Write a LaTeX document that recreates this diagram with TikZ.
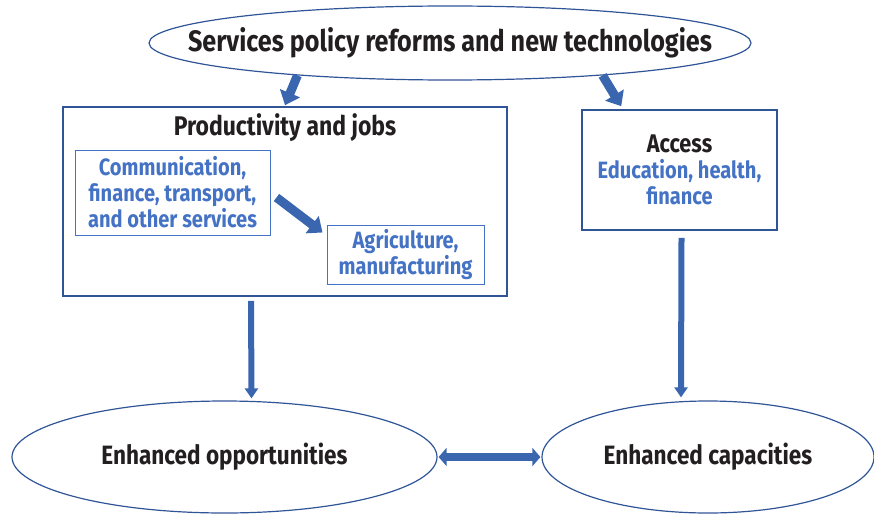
\documentclass[tikz,border=0pt]{standalone}
\usepackage{fontspec}
\setmainfont{Fira Sans}[FakeStretch=0.85]
\usepackage{xcolor}
\usepackage{tikz}
\usetikzlibrary{shapes.geometric,arrows.meta}

\definecolor{linedark}{HTML}{2F5597}
\definecolor{lineblue}{HTML}{4472C4}
\definecolor{arrowblue}{HTML}{3A66B0}
\definecolor{textblack}{HTML}{231F20}

\tikzset{
  oval/.style={ellipse, draw=linedark, line width=1.2pt, inner sep=0pt, text=textblack, font=\bfseries\fontsize{26.5}{30}\selectfont},
  bigbox/.style={rectangle, draw=linedark, line width=1.6pt, inner sep=0pt},
  subbox/.style={rectangle, draw=lineblue, line width=1pt, inner sep=0pt, align=center, text=lineblue, font=\bfseries\fontsize{23.6}{26}\selectfont},
  fatarrow/.style={draw=arrowblue, line width=9pt, -{Triangle[width=21pt,length=13pt]}},
  slimarrow/.style={draw=arrowblue, line width=6pt, -{Triangle[width=13pt,length=10pt]}},
  twoarrow/.style={draw=arrowblue, line width=8pt, {Triangle[width=18pt,length=8pt]}-{Triangle[width=18pt,length=8pt]}}
}

\begin{document}
\begin{tikzpicture}[x=1pt,y=-1pt]
            \useasboundingbox (0,0) rectangle (874,516);

            % top
            \node[oval, minimum width=602pt, minimum height=74pt,
                  label={[name=toptext, text=textblack, font=\bfseries\fontsize{29.6}{34}\selectfont]center:Services policy reforms and new technologies}] at (450,43) (top) {};

            % productivity
            \node[bigbox, minimum width=444pt, minimum height=189pt] at (285,201.5) (prod) {};
            \node[text=textblack, font=\bfseries\fontsize{27}{30}\selectfont] at (285,128) (prodtitle) {Productivity and jobs};
            \node[subbox, minimum width=195pt, minimum height=85pt] at (172.5,192.5) (comm) {Communication,\\finance, transport,\\and other services};
            \node[subbox, minimum width=157pt, minimum height=59pt] at (405.5,254.5) (agri) {Agriculture,\\manufacturing};

            % access
            \node[bigbox, minimum width=195pt, minimum height=120pt, align=center, text=lineblue,
                  font=\bfseries\fontsize{23.6}{26}\selectfont] at (679.5,170) (access) {{\color{textblack}\fontsize{25.5}{26}\selectfont Access}\\Education, health,\\finance};

            % bottom
            \node[oval, minimum width=425pt, minimum height=112pt] at (224.5,457) (opp) {Enhanced opportunities};
            \node[oval, minimum width=332pt, minimum height=112pt] at (708,457) (cap) {Enhanced capacities};

            \draw[fatarrow] (top.192) -- ([yshift=1pt]prod.north);
            \draw[fatarrow] (top.-12) -- ([xshift=40pt,yshift=3pt]access.north west);
            \draw[fatarrow] ([shift={(6pt,-5pt)}]comm.east) -- ([shift={(-4pt,-8pt)}]agri.north west);
            \draw[slimarrow] ([xshift=-34pt,yshift=-4pt]prod.south) -- ([xshift=27pt,yshift=2pt]opp.north);
            \draw[slimarrow] ([xshift=2pt,yshift=-7pt]access.south) -- ([xshift=-27pt,yshift=3pt]cap.north);
            \draw[twoarrow] ([xshift=1pt]opp.east) -- ([xshift=-1pt]cap.west);
        \end{tikzpicture}
\end{document}
